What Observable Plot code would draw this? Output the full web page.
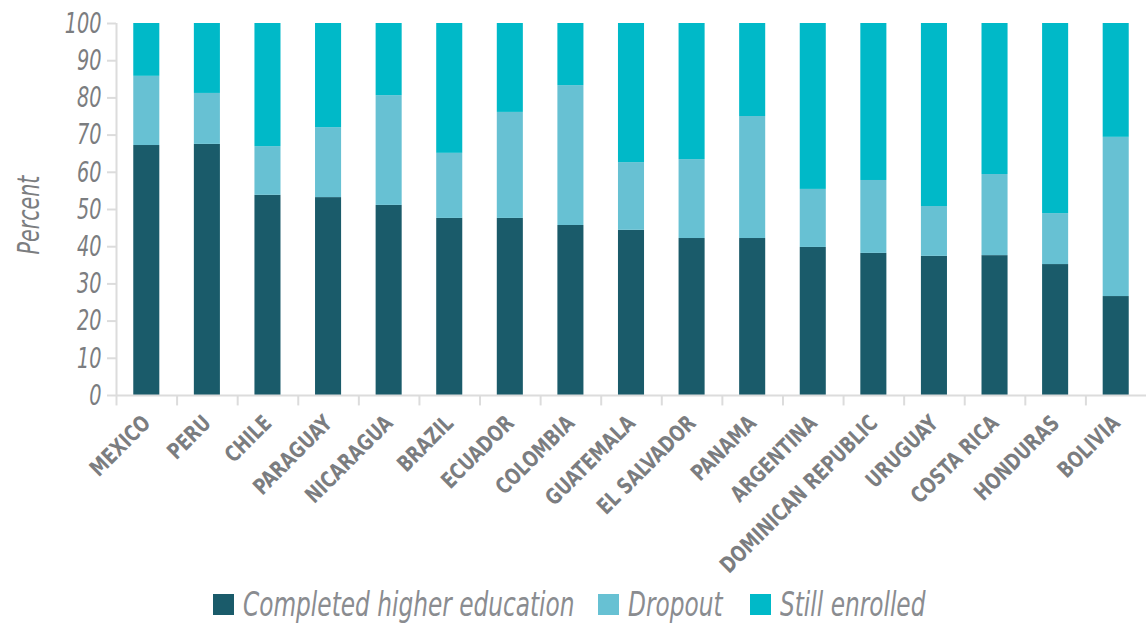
<!DOCTYPE html>
<html>
<head>
<meta charset="utf-8">
<script src="https://cdn.jsdelivr.net/npm/d3@7"></script>
<script src="https://cdn.jsdelivr.net/npm/@observablehq/plot@0.6"></script>
<style>
  html, body { margin: 0; padding: 0; background: #fff; }
  #wrap { position: relative; width: 1146px; height: 625px; overflow: hidden; }
  #legend { position: absolute; left: 0; top: 584px; width: 1146px; height: 40px;
    font-family: "DejaVu Sans Condensed", "Liberation Sans Narrow", sans-serif; font-style: italic;
    font-size: 34px; color: #8a8c90; }
  .item { position: absolute; top: 0; display: flex; align-items: center; height: 40px; white-space: nowrap; }
  .sw { width: 21px; height: 21px; margin-right: 9px; flex: none; }
  .item span { display: inline-block; transform: scaleX(0.76); transform-origin: left center; }
  #ylab { position: absolute; left: 28px; top: 215px; transform: translate(-50%, -50%) rotate(-90deg) scaleX(0.74);
    font-family: "DejaVu Sans Condensed", sans-serif; font-style: italic; font-size: 31px; color: #7b7d80; white-space: nowrap; }
</style>
</head>
<body>
<div id="wrap">
  <div id="chart"></div>
  <div id="ylab">Percent</div>
  <div id="legend"></div>
</div>
<script>
const countries = ["MEXICO","PERU","CHILE","PARAGUAY","NICARAGUA","BRAZIL","ECUADOR","COLOMBIA","GUATEMALA","EL SALVADOR","PANAMA","ARGENTINA","DOMINICAN REPUBLIC","URUGUAY","COSTA RICA","HONDURAS","BOLIVIA"];
const completed = [67.2, 67.5, 53.8, 53.2, 51.1, 47.6, 47.6, 45.7, 44.4, 42.2, 42.2, 39.8, 38.2, 37.4, 37.6, 35.2, 26.6];
const dropout   = [18.6, 13.7, 13.1, 18.8, 29.5, 17.5, 28.5, 37.6, 18.2, 21.2, 32.8, 15.6, 19.6, 13.4, 21.8, 13.7, 42.8];
const enrolled  = [14.2, 18.8, 33.1, 28.0, 19.4, 34.9, 23.9, 16.7, 37.4, 36.6, 25.0, 44.6, 42.2, 49.2, 40.6, 51.1, 30.6];
const seriesNames = ["Completed higher education", "Dropout", "Still enrolled"];
const seriesColors = ["#1a5b6a", "#67c1d3", "#00b9c8"];
const yTicks = [0,10,20,30,40,50,60,70,80,90,100];

const seriesValues = [completed, dropout, enrolled];
const data = [];
seriesNames.forEach((s, si) => countries.forEach((c, i) => data.push({country: c, series: s, value: seriesValues[si][i]})));

const W = 1146, H = 578, mL = 116, mR = 0, mT = 23, mB = 183;
const step = (W - mL - mR) / countries.length;
const font = '"DejaVu Sans Condensed", "Liberation Sans Narrow", sans-serif';

const chart = Plot.plot({
  width: W, height: H,
  marginLeft: mL, marginRight: mR, marginTop: mT, marginBottom: mB,
  style: {fontFamily: font, background: "#fff", overflow: "visible"},
  x: {domain: countries, paddingInner: 0.57, paddingOuter: 0.285, round: false, label: null},
  y: {domain: [0, 100], label: null},
  color: {domain: seriesNames, range: seriesColors},
  marks: [
    Plot.barY(data, {x: "country", y: "value", fill: "series", order: seriesNames}),
    Plot.ruleY([0], {stroke: "#dcdcdc", strokeWidth: 2}),
    Plot.ruleX([countries[0]], {y1: 0, y2: 100, dx: -step / 2, stroke: "#dcdcdc", strokeWidth: 2}),
    Plot.ruleX(countries, {x: d => d, y1: 0, y2: -2.8, dx: -step / 2, stroke: "#dcdcdc", strokeWidth: 2}),
    Plot.axisY({ticks: yTicks, tickSize: 9, tickPadding: 6, fontSize: 29, fontStyle: "italic", stroke: "#dcdcdc", strokeWidth: 2, tickFormat: d => d, label: null}),
    Plot.axisX({tickSize: 0, tickRotate: -45, tickPadding: 24, fontSize: 22, fontWeight: "bold", label: null})
  ]
});
document.getElementById("chart").appendChild(chart);

function squeeze(sel, k) {
  chart.querySelectorAll(sel).forEach(g => {
    g.setAttribute("fill", "#7b7d80");
    g.querySelectorAll("text").forEach(t => {
      let tr = t.getAttribute("transform");
      if (!tr) {
        const x = t.getAttribute("x") || 0, y = t.getAttribute("y") || 0;
        t.removeAttribute("x"); t.removeAttribute("y");
        tr = `translate(${x},${y})`;
      }
      t.setAttribute("transform", tr + ` scale(${k},1)`);
    });
  });
}
squeeze("g[aria-label='y-axis tick label']", 0.74);
squeeze("g[aria-label='x-axis tick label']", 0.86);
chart.querySelectorAll("g[aria-label='y-axis tick']").forEach(g => { g.setAttribute("stroke", "#dcdcdc"); g.setAttribute("stroke-width", "2"); });

const legend = document.getElementById("legend");
const lefts = [213, 598, 750];
seriesNames.forEach((s, i) => {
  const it = document.createElement("div");
  it.className = "item";
  it.style.left = lefts[i] + "px";
  const sw = document.createElement("div");
  sw.className = "sw"; sw.style.background = seriesColors[i];
  const t = document.createElement("span"); t.textContent = s;
  it.appendChild(sw); it.appendChild(t);
  legend.appendChild(it);
});
</script>
</body>
</html>
